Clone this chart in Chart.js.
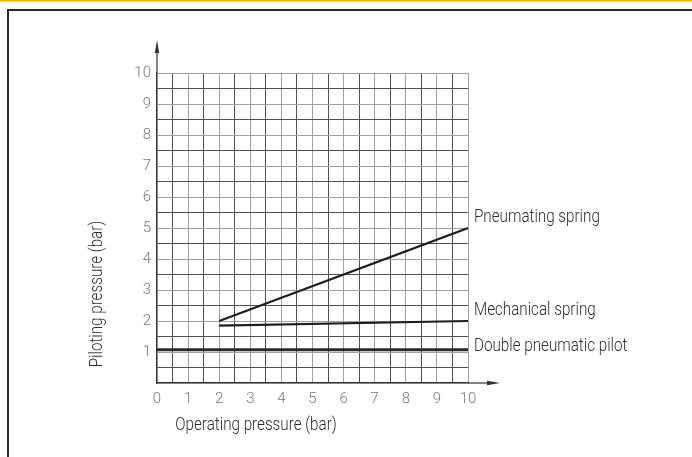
<!DOCTYPE html>
<html>
<head>
<meta charset="utf-8">
<script src="https://cdn.jsdelivr.net/npm/chart.js@4/dist/chart.umd.min.js"></script>
<style>
    body { margin: 0; background: #ffffff; }
    #pressureChart { display: block; }
</style>
</head>
<body>
<canvas id="pressureChart" width="692" height="457"></canvas>
<script>

// values
const operatingPressure = [2, 10];
const pneumatingSpring = [2.0, 5.0];
const mechanicalSpring = [1.85, 2.0];
const pilotPressure = [0, 10];
const doublePneumaticPilot = [1.07, 1.07];

const seriesNames = [
    "Pneumating spring",
    "Mechanical spring",
    "Double pneumatic pilot"
];

const xTickValues = [0, 1, 2, 3, 4, 5, 6, 7, 8, 9, 10];
const yTickValues = [1, 2, 3, 4, 5, 6, 7, 8, 9, 10];

const xTitle = "Operating pressure (bar)";
const yTitle = "Piloting pressure (bar)";

// label placement (pixels above the line end)
const labelLift = [11, 11, 4];

const textFont = "Roboto, 'Liberation Sans', sans-serif";
// the source uses a condensed face, squeeze the text a bit
const narrow = 0.8;

function toPoints(
    xs,
    ys
)
{
    return xs.map((x, i) => ({ x: x, y: ys[i] }));
}

function narrowText(
    ctx,
    text,
    x,
    y,
    angle
)
{
    ctx.save();
    ctx.translate(x, y);
    if (angle) ctx.rotate(angle);
    ctx.scale(narrow, 1);
    ctx.fillText(text, 0, 0);
    ctx.restore();
}

let extrasPlugin = {
    id: "extras",

    beforeDraw(chart)
    {
        let ctx = chart.ctx;
        ctx.save();
        ctx.fillStyle = "#ffffff";
        ctx.fillRect(0, 0, chart.width, chart.height);

        // orange band on top
        ctx.fillStyle = "#f2b200";
        ctx.fillRect(0, 0, chart.width, 1.5);

        // frame
        ctx.fillStyle = "#2a2a2a";
        ctx.fillRect(7, 9, chart.width - 7, 2);
        ctx.fillRect(7, 9, 2, chart.height - 9);
        ctx.restore();
    },

    afterDraw(chart)
    {
        let ctx = chart.ctx;
        let xs = chart.scales.x;
        let ys = chart.scales.y;
        let x0 = xs.getPixelForValue(0);
        let y0 = ys.getPixelForValue(0);
        let xEnd = xs.getPixelForValue(10);
        let yTop = ys.getPixelForValue(10);

        ctx.save();
        ctx.strokeStyle = "#333333";
        ctx.fillStyle = "#333333";
        ctx.lineWidth = 1.2;

        // y axis arrow
        ctx.beginPath();
        ctx.moveTo(x0, yTop);
        ctx.lineTo(x0, yTop - 24);
        ctx.stroke();
        ctx.beginPath();
        ctx.moveTo(x0, yTop - 33);
        ctx.lineTo(x0 - 2.2, yTop - 20);
        ctx.lineTo(x0 + 2.2, yTop - 20);
        ctx.closePath();
        ctx.fill();

        // x axis arrow
        ctx.beginPath();
        ctx.moveTo(xEnd, y0);
        ctx.lineTo(xEnd + 22, y0);
        ctx.stroke();
        ctx.beginPath();
        ctx.moveTo(xEnd + 32, y0);
        ctx.lineTo(xEnd + 19, y0 - 2.2);
        ctx.lineTo(xEnd + 19, y0 + 2.2);
        ctx.closePath();
        ctx.fill();

        // series labels at line ends
        ctx.font = "300 19px " + textFont;
        ctx.fillStyle = "#2e2e2e";
        ctx.textAlign = "left";
        ctx.textBaseline = "middle";
        chart.data.datasets.forEach((ds, i) => {
            let last = ds.data[ds.data.length - 1];
            narrowText(
                ctx,
                seriesNames[i],
                xs.getPixelForValue(last.x) + 6,
                ys.getPixelForValue(last.y) - labelLift[i],
                0
            );
        });

        // axis titles
        ctx.textAlign = "center";
        narrowText(ctx, xTitle, 256, 425, 0);
        narrowText(ctx, yTitle, 97, 294, -Math.PI / 2);
        ctx.restore();
    }
};

function gridColor(
    ctx
)
{
    let v = ctx.tick ? ctx.tick.value : 0;
    return Number.isInteger(v) ? "#a0a0a0" : "#505050";
}

function halfSteps(
    scale
)
{
    let t = [];
    for (let v = 0; v <= 10; v += 0.5) t.push({ value: v });
    scale.ticks = t;
}

function createChart()
{
    new Chart(
        document.getElementById(
            "pressureChart"
        ),
        {
            type: "scatter",

            data: {
                datasets: [
                    {
                        label: seriesNames[0],
                        data: toPoints(operatingPressure, pneumatingSpring),
                        showLine: true,
                        borderColor: "#1e1e1e",
                        borderWidth: 2.2,
                        pointRadius: 0
                    },
                    {
                        label: seriesNames[1],
                        data: toPoints(operatingPressure, mechanicalSpring),
                        showLine: true,
                        borderColor: "#1e1e1e",
                        borderWidth: 2.2,
                        pointRadius: 0
                    },
                    {
                        label: seriesNames[2],
                        data: toPoints(pilotPressure, doublePneumaticPilot),
                        showLine: true,
                        borderColor: "#2a2a2a",
                        borderWidth: 3,
                        pointRadius: 0
                    }
                ]
            },

            options: {
                responsive: false,
                animation: false,
                devicePixelRatio: 1,
                layout: {
                    padding: { left: 100, top: 73, right: 224, bottom: 20 }
                },
                plugins: {
                    legend: { display: false },
                    tooltip: { enabled: false }
                },
                scales: {
                    x: {
                        type: "linear",
                        min: 0,
                        max: 10,
                        afterFit(scale) { scale.height = 54; },
                        afterBuildTicks: halfSteps,
                        ticks: {
                            autoSkip: false,
                            maxRotation: 0,
                            padding: 7,
                            color: "#7a7a7a",
                            font: { family: textFont, size: 15, weight: "300" },
                            callback: v => xTickValues.includes(v) ? String(v) : ""
                        },
                        grid: {
                            color: gridColor,
                            lineWidth: 1,
                            drawTicks: false
                        },
                        border: { color: "#333333", width: 1.2 }
                    },
                    y: {
                        type: "linear",
                        min: 0,
                        max: 10,
                        afterFit(scale) { scale.width = 57; },
                        afterBuildTicks: halfSteps,
                        ticks: {
                            autoSkip: false,
                            padding: 6,
                            color: "#7a7a7a",
                            font: { family: textFont, size: 15, weight: "300" },
                            callback: v => yTickValues.includes(v) ? String(v) : ""
                        },
                        grid: {
                            color: gridColor,
                            lineWidth: 1,
                            drawTicks: false
                        },
                        border: { color: "#333333", width: 1.2 }
                    }
                }
            },

            plugins: [extrasPlugin]
        }
    );
}

createChart();
</script>
</body>
</html>
